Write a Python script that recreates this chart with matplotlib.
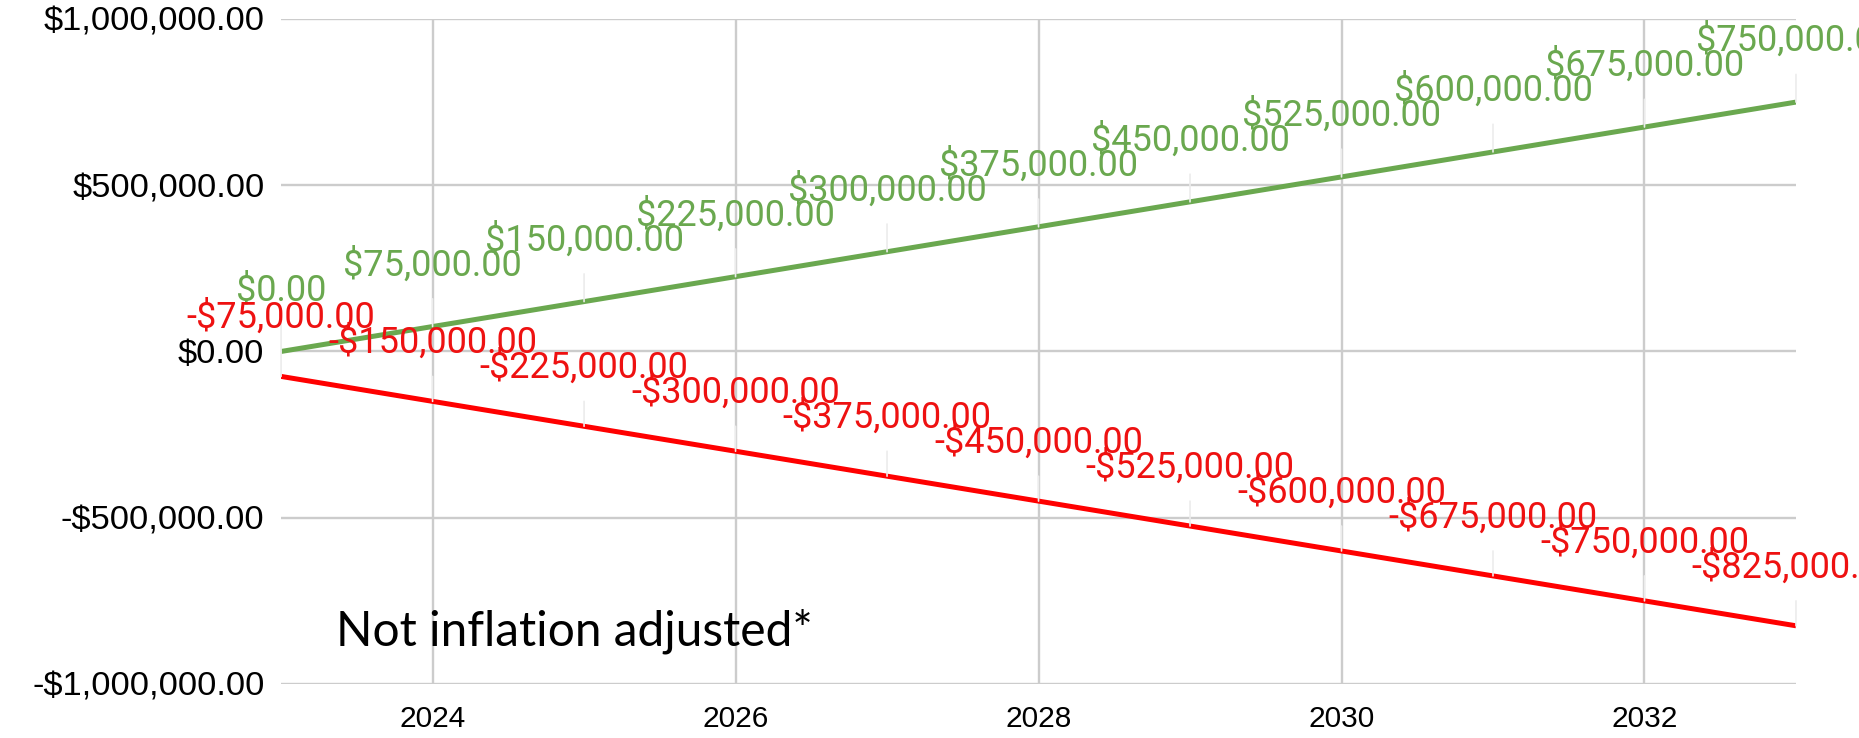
import matplotlib
matplotlib.use("Agg")
import matplotlib.pyplot as plt
from matplotlib.ticker import FuncFormatter

# data
years = [2023, 2024, 2025, 2026, 2027, 2028, 2029, 2030, 2031, 2032, 2033]
gain = [0, 75000, 150000, 225000, 300000, 375000, 450000, 525000, 600000, 675000, 750000]
cost = [-75000, -150000, -225000, -300000, -375000, -450000, -525000, -600000,
        -675000, -750000, -825000]
yticks = [-1000000, -500000, 0, 500000, 1000000]
xticks = [2024, 2026, 2028, 2030, 2032]

C_GAIN, C_COST = "#6aa84f", "#ff0000"
C_COST_TXT = "#ee1111"


def money(v, pos=None):
    s = f"${abs(v):,.2f}"
    return "-" + s if v < 0 else s


fig = plt.figure(figsize=(18.59, 7.38), dpi=100)
ax = fig.add_axes([0.1512, 0.0732, 0.8149, 0.9011])

ax.set_xlim(2023, 2033)
ax.set_ylim(-1000000, 1000000)
ax.set_xticks(xticks)
ax.set_yticks(yticks)
ax.yaxis.set_major_formatter(FuncFormatter(money))
ax.grid(True, color="#cccccc", lw=1.7, zorder=0)
ax.axhline(0, color="#222222", lw=1.3, zorder=1)
for s in ax.spines.values():
    s.set_visible(False)
ax.tick_params(length=0, labelsize=21.5, pad=15)
ax.tick_params(axis="y", labelsize=24.8, pad=12)
for lab in ax.get_xticklabels() + ax.get_yticklabels():
    lab.set_family("Liberation Sans")

ax.plot(years, gain, color=C_GAIN, lw=3.6, zorder=3, solid_capstyle="butt")
ax.plot(years, cost, color=C_COST, lw=3.6, zorder=3, solid_capstyle="butt")

for series, col, off in ((gain, C_GAIN, 44), (cost, C_COST_TXT, 42)):
    for x, y in zip(years, series):
        ax.annotate(money(y), (x, y), xytext=(0, off), textcoords="offset points",
                    ha="center", va="center", fontsize=26, color=col,
                    family="Roboto", annotation_clip=False, zorder=4,
                    arrowprops=dict(arrowstyle="-", color="#ececec", lw=1.2,
                                    shrinkA=9, shrinkB=0))

ax.text(0.036, 0.08, "Not inflation adjusted*", transform=ax.transAxes,
        fontsize=34.5, family="Lato", ha="left", va="center", color="black", zorder=5)

fig.savefig("out.png", dpi=100)
